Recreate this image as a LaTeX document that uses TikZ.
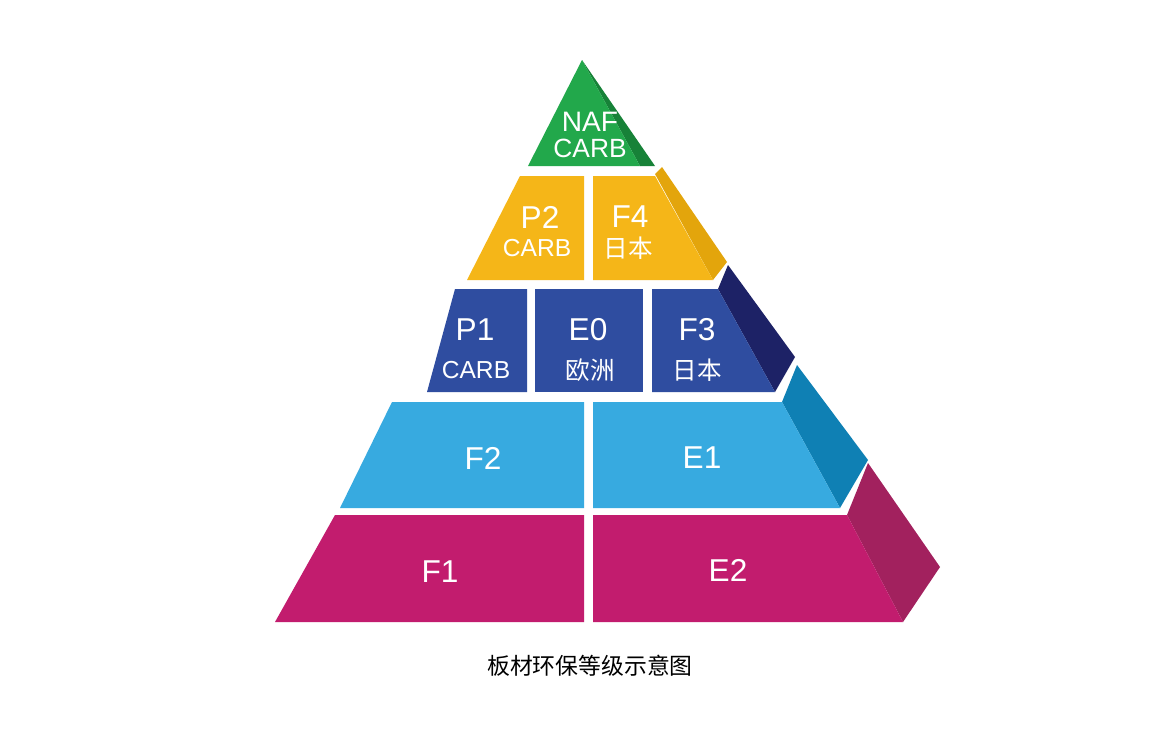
\documentclass[tikz,border=0pt]{standalone}
\usepackage{fontspec}
\setmainfont{Liberation Sans}
\newfontfamily\cjk{Noto Sans CJK SC}
\definecolor{gF}{HTML}{22A84B}\definecolor{gS}{HTML}{178238}
\definecolor{yF}{HTML}{F5B618}\definecolor{yS}{HTML}{E3A50C}
\definecolor{nF}{HTML}{2F4DA0}\definecolor{nS}{HTML}{1D2266}
\definecolor{bF}{HTML}{37AAE0}\definecolor{bS}{HTML}{0F80B4}
\definecolor{mF}{HTML}{C21C6E}\definecolor{mS}{HTML}{A2215E}
\begin{document}
\begin{tikzpicture}[x=0.02cm,y=-0.02cm,
  big/.style={text=white,font=\fontsize{18}{19}\selectfont},
  small/.style={text=white,font=\fontsize{14}{15}\selectfont},
  smallcjk/.style={text=white,font=\fontsize{14}{15}\selectfont\cjk}]
\useasboundingbox (0,0) rectangle (1160,730);
\fill[white] (0,0) rectangle (1160,730);
% side faces
\fill[mS] (847,515) -- (903,622) -- (940,567) -- (868,463) -- cycle;
\fill[bS] (782,402) -- (840,508) -- (868,460) -- (797,365) -- cycle;
\fill[nS] (718,289) -- (775,392) -- (795,357) -- (728,265) -- cycle;
\fill[yS] (655,174) -- (713,280) -- (727,262) -- (662,167) -- cycle;
\fill[gS] (582,60) -- (640,166) -- (655,166) -- cycle;
% front faces
\fill[gF] (582,60) -- (640,166) -- (528,166) -- cycle;
\fill[yF] (520,176) -- (584,176) -- (584,280) -- (467,280) -- cycle;
\fill[yF] (593,176) -- (655,176) -- (713,280) -- (593,280) -- cycle;
\fill[nF] (455,289) -- (527,289) -- (527,392) -- (427,392) -- cycle;
\fill[nF] (535,289) -- (643,289) -- (643,392) -- (535,392) -- cycle;
\fill[nF] (652,289) -- (718,289) -- (775,392) -- (652,392) -- cycle;
\fill[bF] (392,402) -- (584,402) -- (584,508) -- (340,508) -- cycle;
\fill[bF] (593,402) -- (782,402) -- (840,508) -- (593,508) -- cycle;
\fill[mF] (335,515) -- (584,515) -- (584,622) -- (275,622) -- cycle;
\fill[mF] (593,515) -- (847,515) -- (903,622) -- (593,622) -- cycle;
% labels
\node[big,font=\fontsize{16}{17}\selectfont] (naf) at (590,122) {NAF};
\node[small,font=\fontsize{15}{16}\selectfont] (carb0) at (590,148) {CARB};
\node[big] (p2) at (540,217) {P2};
\node[small] (carb2) at (537,248) {CARB};
\node[big] (f4) at (630,217) {F4};
\node[smallcjk] (jp4) at (628,248) {日本};
\node[big] (p1) at (475,330) {P1};
\node[small] (carb1) at (476,370) {CARB};
\node[big] (e0) at (588,330) {E0};
\node[smallcjk] (eu) at (590,370) {欧洲};
\node[big] (f3) at (697,330) {F3};
\node[smallcjk] (jp3) at (697,370) {日本};
\node[big] (f2) at (483,458) {F2};
\node[big] (e1) at (702,458) {E1};
\node[big] (f1) at (440,572) {F1};
\node[big] (e2) at (728,570) {E2};
\node[font=\fontsize{13}{14}\selectfont\cjk,text=black] (cap) at (590,666) {板材环保等级示意图};
\end{tikzpicture}
\end{document}
